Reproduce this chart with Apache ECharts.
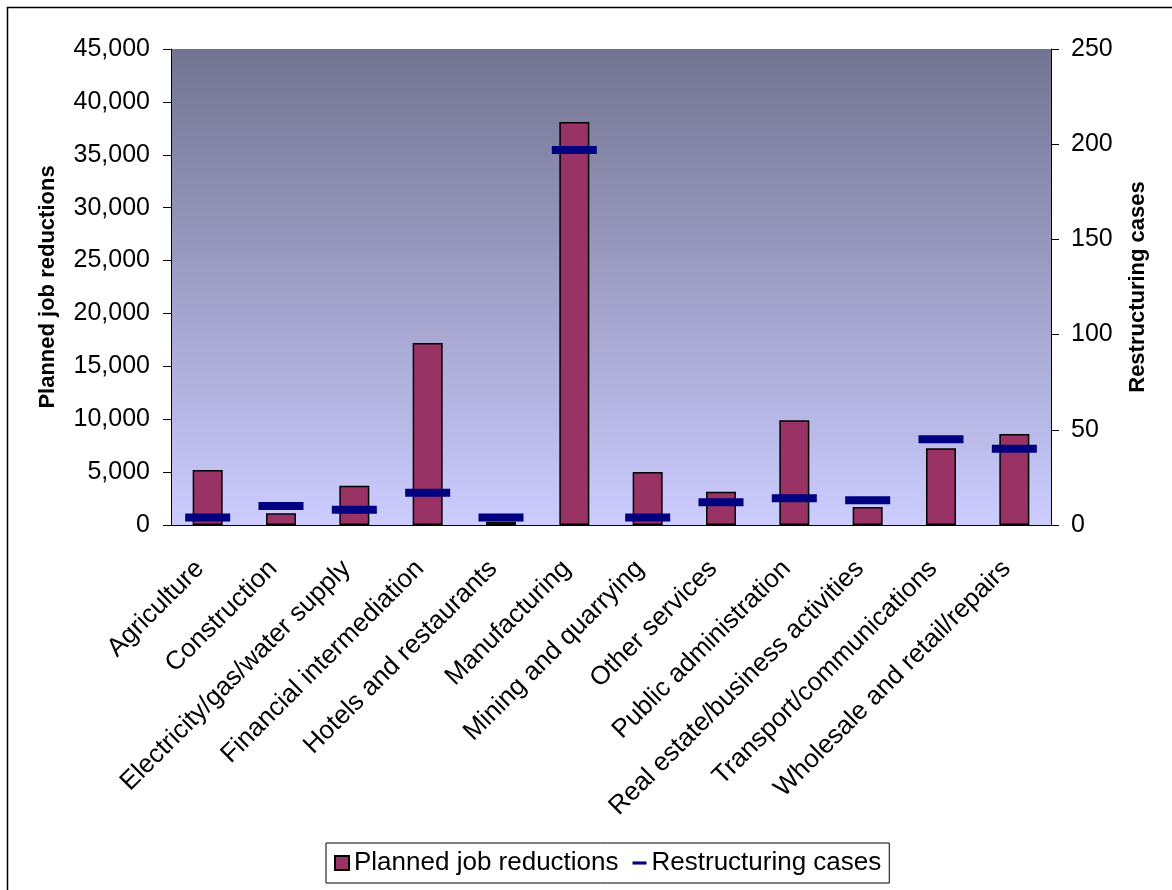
<!DOCTYPE html>
<html>
<head>
<meta charset="utf-8">
<script src="https://cdn.jsdelivr.net/npm/echarts@6/dist/echarts.min.js"></script>
<style>
  html, body { margin: 0; padding: 0; background: #fff; }
  #chart { width: 1172px; height: 890px; }
</style>
</head>
<body>
<div id="chart"></div>
<script>
// sectors along the x axis
const sectors = [
  'Agriculture',
  'Construction',
  'Electricity/gas/water supply',
  'Financial intermediation',
  'Hotels and restaurants',
  'Manufacturing',
  'Mining and quarrying',
  'Other services',
  'Public administration',
  'Real estate/business activities',
  'Transport/communications',
  'Wholesale and retail/repairs'
];

// left axis - bars
const jobReductions = [5200, 1100, 3700, 17200, 300, 38100, 5000, 3150, 9900, 1700, 7250, 8600];

// right axis - dash markers
const restructuringCases = [4, 10, 8, 17, 4, 197, 4, 12, 14, 13, 45, 40];

const leftTicks = { min: 0, max: 45000, interval: 5000 };
const rightTicks = { min: 0, max: 250, interval: 50 };

const font = 'Liberation Sans, Arial, sans-serif';

let myChart = echarts.init(document.getElementById('chart'));

const option = {
  animation: false,
  textStyle: { fontFamily: font, color: '#000' },
  graphic: [{
    type: 'rect',
    shape: { x: 7.5, y: 7.5, width: 1300, height: 1000 },
    style: { fill: 'none', stroke: '#000', lineWidth: 1.5 },
    silent: true
  }],
  grid: {
    left: 171, top: 49, right: 121, bottom: 365,
    show: true,
    borderWidth: 0,
    backgroundColor: new echarts.graphic.LinearGradient(0, 0, 0, 1, [
      { offset: 0, color: '#737391' },
      { offset: 1, color: '#ccccff' }
    ])
  },
  legend: {
    left: 326, top: 843,
    padding: [7, 8, 7, 8],
    borderColor: '#000', borderWidth: 1,
    itemWidth: 14, itemHeight: 14, itemGap: 14,
    textStyle: { fontSize: 26, fontFamily: font, color: '#000' },
    data: [
      { name: 'Planned job reductions', icon: 'rect' },
      { name: 'Restructuring cases', icon: 'path://M0,0 L18,0 L18,4 L0,4 Z' }
    ]
  },
  xAxis: {
    type: 'category',
    data: sectors,
    axisLine: { lineStyle: { color: '#000', width: 1 } },
    axisTick: { lineStyle: { color: '#000' }, length: 8 },
    axisLabel: {
      rotate: 45, fontSize: 26, color: '#000', margin: 32, interval: 0,
      padding: [0, 11, 0, 0]
    }
  },
  yAxis: [{
    type: 'value',
    min: leftTicks.min, max: leftTicks.max, interval: leftTicks.interval,
    name: 'Planned job reductions',
    nameLocation: 'middle',
    nameGap: 112,
    nameTextStyle: { fontSize: 22, fontWeight: 'bold', color: '#000' },
    axisLine: { show: true, lineStyle: { color: '#000' } },
    axisTick: { show: true, length: 8, lineStyle: { color: '#000' } },
    splitLine: { show: false },
    axisLabel: {
      fontSize: 25, color: '#000', margin: 21,
      formatter: v => v.toLocaleString('en-US')
    }
  }, {
    type: 'value',
    min: rightTicks.min, max: rightTicks.max, interval: rightTicks.interval,
    name: 'Restructuring cases',
    nameLocation: 'middle',
    nameGap: 76,
    nameRotate: 90,
    nameTextStyle: { fontSize: 22, fontWeight: 'bold', color: '#000' },
    axisLine: { show: true, lineStyle: { color: '#000' } },
    axisTick: { show: true, length: 8, lineStyle: { color: '#000' } },
    splitLine: { show: false },
    axisLabel: { fontSize: 25, color: '#000', margin: 20 }
  }],
  series: [{
    name: 'Planned job reductions',
    type: 'bar',
    data: jobReductions,
    barWidth: 30,
    itemStyle: { color: '#993366', borderColor: '#000', borderWidth: 1.5 }
  }, {
    name: 'Restructuring cases',
    type: 'scatter',
    yAxisIndex: 1,
    data: restructuringCases,
    symbol: 'rect',
    symbolSize: [45, 8],
    itemStyle: { color: '#000080', opacity: 1 },
    z: 5
  }]
};

myChart.setOption(option);
</script>
</body>
</html>
